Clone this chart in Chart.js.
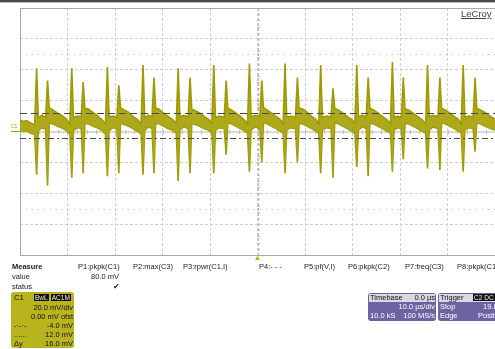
<!DOCTYPE html>
<html>
<head>
<meta charset="utf-8">
<script src="https://cdn.jsdelivr.net/npm/chart.js@4.4.0/dist/chart.umd.min.js"></script>
<style>
body { margin: 0; background: #fff; }
#wrap { position: relative; width: 495px; height: 349px; overflow: hidden; font-family: "Liberation Sans", Arial, sans-serif; }
#scope { position: absolute; left: 0; top: 0; }
.topbar { position: absolute; left: 0; top: 0; width: 495px; height: 2px; background: #4a4a4a; border-bottom: 1px solid #bdbdbd; }
.t { position: absolute; font-size: 7.5px; line-height: 9px; color: #222; white-space: nowrap; }
.b { font-weight: bold; }
.logo { position: absolute; left: 461px; top: 8px; font-size: 9.5px; line-height: 11px; color: #444; text-decoration: underline; }
.c1tag { position: absolute; left: 11px; top: 123px; font-size: 5px; line-height: 6px; color: #a8a200; }
.box { position: absolute; border-radius: 3px; overflow: hidden; }
.box .t { color: #111; }
.c1box { left: 11px; top: 292px; width: 63px; height: 56px; background: #b9b31e; }
.tbox { left: 368px; top: 293px; width: 68px; height: 28px; background: #6d63a2; }
.trbox { left: 438px; top: 293px; width: 70px; height: 28px; background: #6d63a2; }
.head { position: absolute; left: 1px; top: 1px; right: 1px; height: 8px; background: #d9d9e3; }
.w { color: #fff !important; }
.tag { background: #111; color: #eee; font-size: 6.5px; padding: 0 1px; }
</style>
</head>
<body>
<div id="wrap">
  <canvas id="scope" width="495" height="349"></canvas>
  <div class="topbar"></div>
  <div class="logo">LeCroy</div>
  <div class="c1tag">C1</div>

  <div class="t b" style="left:12px;top:262px">Measure</div>
  <div class="t" style="left:78px;top:262px">P1:pkpk(C1)</div>
  <div class="t" style="left:133px;top:262px">P2:max(C3)</div>
  <div class="t" style="left:183px;top:262px">P3:rpwr(C1,I)</div>
  <div class="t" style="left:259px;top:262px">P4:- - -</div>
  <div class="t" style="left:304px;top:262px">P5:pf(V,I)</div>
  <div class="t" style="left:348px;top:262px">P6:pkpk(C2)</div>
  <div class="t" style="left:405px;top:262px">P7:freq(C3)</div>
  <div class="t" style="left:457px;top:262px">P8:pkpk(C1)</div>
  <div class="t" style="left:12px;top:272px">value</div>
  <div class="t" style="right:376px;top:272px">80.0 mV</div>
  <div class="t" style="left:12px;top:282px">status</div>
  <div class="t" style="left:113px;top:282px">&#10004;</div>

  <div class="box c1box">
    <div class="t" style="left:3px;top:1px">C1</div>
    <div class="t" style="left:23px;top:1px"><span class="tag">BwL</span> <span class="tag">AC1M</span></div>
    <div class="t" style="right:1px;top:11px">20.0 mV/div</div>
    <div class="t" style="right:1px;top:20px">0.00 mV ofst</div>
    <div class="t" style="left:3px;top:29px">-·-·-</div>
    <div class="t" style="right:1px;top:29px">-4.0 mV</div>
    <div class="t" style="left:3px;top:38px">......</div>
    <div class="t" style="right:1px;top:38px">12.0 mV</div>
    <div class="t" style="left:3px;top:47px">Δy</div>
    <div class="t" style="right:1px;top:47px">16.0 mV</div>
  </div>

  <div class="box tbox">
    <div class="head"></div>
    <div class="t" style="left:2px;top:0px">Timebase</div>
    <div class="t" style="right:1px;top:0px">0.0 µs</div>
    <div class="t w" style="right:1px;top:9px">10.0 µs/div</div>
    <div class="t w" style="left:2px;top:18px">10.0 kS</div>
    <div class="t w" style="right:1px;top:18px">100 MS/s</div>
  </div>
  <div class="box trbox">
    <div class="head"></div>
    <div class="t" style="left:2px;top:0px">Trigger</div>
    <div class="t" style="left:35px;top:0px"><span class="tag">C2</span><span class="tag">DC</span></div>
    <div class="t w" style="left:2px;top:9px">Stop</div>
    <div class="t w" style="left:45px;top:9px">19.8 V</div>
    <div class="t w" style="left:2px;top:18px">Edge</div>
    <div class="t w" style="left:40px;top:18px">Positive</div>
  </div>
</div>

<script>
// C1 trace, time in µs (10 µs/div), voltage in mV (20 mV/div)
const spikeTimesA = [-46.5, -39.1, -31.6, -24.1, -16.7, -9.2, -1.7, 5.8, 13.3, 20.9, 28.4, 35.8, 43.3];
const spikePeakA = [41, 41, 42, 43, 41, 43, 44, 44, 43, 43, 45, 43, 43];
const spikeTroughA = [-28, -30, -29, -28, -32, -27, -26, -27, -27, -23, -26, -24, -26];

const spikeTimesB = [-44.2, -36.7, -29.2, -21.8, -14.2, -6.6, 0.9, 8.4, 15.9, 23.3, 30.7, 38.4, 45.8];
const spikePeakB = [33, 32, 30, 35, 35, 33, 33, 35, 28, 35, 35, 35, 35];
const spikeTroughB = [-35, -27, -27, -27, -27, -15, -20, -20, -30, -29, -18, -25, -13];

// noisy band between the spikes (upper / lower edge)
const bandTime = [
  -50, -49.3, -48.6, -47.8, -46.9,
  -46.15, -45.4, -44.6, -43.85, -43.1, -42.2, -41.3, -40.4, -39.5,
  -38.75, -37.9, -37.1, -36.35, -35.6, -34.7, -33.8, -32.9, -32.0,
  -31.25, -30.4, -29.6, -28.85, -28.1, -27.2, -26.3, -25.4, -24.5,
  -23.75, -23.0, -22.2, -21.45, -20.7, -19.8, -18.9, -18.0, -17.1,
  -16.35, -15.5, -14.6, -13.85, -13.1, -12.2, -11.3, -10.4, -9.6,
  -8.85, -8.0, -7.0, -6.25, -5.5, -4.6, -3.7, -2.8, -2.1,
  -1.35, -0.5, 0.5, 1.25, 2.0, 2.9, 3.8, 4.7, 5.4,
  6.15, 7.0, 8.0, 8.75, 9.5, 10.4, 11.3, 12.2, 12.9,
  13.65, 14.5, 15.5, 16.25, 17.0, 17.9, 18.8, 19.7, 20.5,
  21.25, 22.1, 22.9, 23.65, 24.4, 25.3, 26.2, 27.1, 28.0,
  28.75, 29.5, 30.3, 31.05, 31.8, 32.7, 33.6, 34.5, 35.4,
  36.15, 37.0, 38.0, 38.75, 39.5, 40.4, 41.3, 42.2, 42.9,
  43.65, 44.5, 45.4, 46.15, 46.9, 47.8, 48.7, 49.5, 50
];
const bandHigh = [
  7.5, 6.5, 7, 5.5, 4.5,
  9, 10.5, 9, 15.5, 14, 12, 10.5, 8.5, 5,
  9, 10, 9.5, 15, 14.5, 12.5, 10.5, 8, 5,
  9.5, 10, 9, 15.5, 14, 12.5, 10, 8, 5,
  9, 10.5, 9.5, 15, 14.5, 12, 10, 8, 5.5,
  9.5, 10.5, 9.5, 14.5, 13.5, 12, 10, 8, 5.5,
  9, 10, 9, 15, 14, 12, 10, 7.5, 5,
  9.5, 10.5, 9.5, 15.5, 14, 12, 10, 8, 5,
  9, 10, 9, 15, 14.5, 12.5, 10, 8, 5,
  9, 10, 9.5, 15, 14, 12, 10, 8, 5.5,
  9.5, 10.5, 9.5, 15, 14, 12, 10, 8, 5,
  9, 10, 9, 14.5, 14, 12, 10, 8, 5,
  9.5, 10.5, 9.5, 15, 14, 12, 10, 8, 5,
  9, 10, 9.5, 15, 14, 12.5, 10.5, 9, 8
];
const bandLow = [
  1, 0, 0.5, -1, -2,
  0.5, 2.5, 1.5, 5.5, 5, 3.5, 2.5, 1, -1.5,
  0.5, 2.5, 2, 5, 5, 3.5, 2.5, 1, -1.5,
  0.5, 2.5, 2, 5.5, 4.5, 3.5, 2, 0.5, -1.5,
  0.5, 3, 2, 5, 5, 3.5, 2, 1, -1,
  1, 3, 2, 5, 4.5, 3.5, 2, 1, -0.5,
  1, 2.5, 2, 5.5, 5, 3.5, 2, 0.5, -1,
  1, 3, 2, 5.5, 5, 3.5, 2, 0.5, -1,
  1, 2.5, 2, 5, 5, 3.5, 2, 0.5, -1,
  1, 2.5, 2, 5.5, 5, 3.5, 2, 0.5, -1,
  1, 3, 2, 5, 5, 3.5, 2, 0.5, -1,
  1, 2.5, 2, 5, 5, 3.5, 2, 0.5, -1,
  1, 3, 2, 5.5, 5, 3.5, 2, 0.5, -1,
  1, 2.5, 2, 5.5, 5, 3.5, 2.5, 1.5, 1
];

// cursors and markers
const cursorHigh = 12.0;
const cursorLow = -4.0;
const limitLines = [50, -50];

// merge band and spikes into one time-ordered list
let rows = [];
bandTime.forEach(function(t, i) { rows.push({ t: t, hi: bandHigh[i], lo: bandLow[i] }); });
spikeTimesA.forEach(function(t, i) { rows.push({ t: t, hi: spikePeakA[i], lo: spikeTroughA[i] }); });
spikeTimesB.forEach(function(t, i) { rows.push({ t: t, hi: spikePeakB[i], lo: spikeTroughB[i] }); });
rows.sort(function(a, b) { return a.t - b.t; });

let traceColor = 'rgb(160,154,0)';

const scopePlugin = {
    id: 'scope',
    beforeDatasetsDraw: function(chart) {
        let ctx = chart.ctx, a = chart.chartArea;
        let x = chart.scales.x, y = chart.scales.y;
        ctx.save();
        // dotted limit lines
        ctx.strokeStyle = '#b4b4b4';
        ctx.lineWidth = 1;
        ctx.setLineDash([1, 5]);
        limitLines.forEach(function(v) {
            let py = Math.round(y.getPixelForValue(v)) + 0.5;
            ctx.beginPath(); ctx.moveTo(a.left, py); ctx.lineTo(a.right, py); ctx.stroke();
        });
        ctx.setLineDash([]);
        // centre lines with ticks
        let cy = Math.round(y.getPixelForValue(0));
        let cx = Math.round(x.getPixelForValue(0)) + 0.5;
        ctx.strokeStyle = '#dadada';
        ctx.lineWidth = 2;
        ctx.beginPath(); ctx.moveTo(a.left, cy); ctx.lineTo(a.right, cy); ctx.stroke();
        ctx.lineWidth = 1;
        ctx.strokeStyle = '#b8b8b8';
        ctx.setLineDash([3, 2]);
        ctx.beginPath(); ctx.moveTo(cx, a.top); ctx.lineTo(cx, a.bottom); ctx.stroke();
        ctx.setLineDash([]);
        ctx.strokeStyle = '#c0c0c0';
        ctx.beginPath();
        for (let v = -80; v <= 80; v += 4) {
            let py = Math.round(y.getPixelForValue(v)) + 0.5;
            ctx.moveTo(cx - 1.5, py); ctx.lineTo(cx + 1.5, py);
        }
        for (let t = -50; t <= 50; t += 2) {
            let px = Math.round(x.getPixelForValue(t)) + 0.5;
            ctx.moveTo(px, cy - 2); ctx.lineTo(px, cy + 2);
        }
        ctx.stroke();
        // frame
        ctx.strokeStyle = '#a8a8a8';
        ctx.strokeRect(a.left + 0.5, a.top + 0.5, a.right - a.left + 5, a.bottom - a.top);
        ctx.restore();
    },
    afterDatasetsDraw: function(chart) {
        let ctx = chart.ctx, a = chart.chartArea;
        let y = chart.scales.y, x = chart.scales.x;
        ctx.save();
        ctx.strokeStyle = '#4a4a4a';
        ctx.lineWidth = 1;
        let py = Math.round(y.getPixelForValue(cursorHigh)) + 0.5;
        ctx.setLineDash([7, 4]);
        ctx.beginPath(); ctx.moveTo(a.left, py); ctx.lineTo(a.right, py); ctx.stroke();
        py = Math.round(y.getPixelForValue(cursorLow)) + 0.5;
        ctx.setLineDash([6, 3, 2, 3]);
        ctx.beginPath(); ctx.moveTo(a.left, py); ctx.lineTo(a.right, py); ctx.stroke();
        ctx.setLineDash([]);
        // channel ground marker
        let gy = Math.round(y.getPixelForValue(0)) - 0.5;
        ctx.strokeStyle = traceColor;
        ctx.beginPath(); ctx.moveTo(11, gy); ctx.lineTo(a.left, gy); ctx.stroke();
        // trigger position marker
        let tx = x.getPixelForValue(0);
        ctx.fillStyle = '#c2bb10';
        ctx.beginPath();
        ctx.moveTo(tx, a.bottom + 0.5); ctx.lineTo(tx - 2.5, a.bottom + 5); ctx.lineTo(tx + 2.5, a.bottom + 5);
        ctx.closePath(); ctx.fill();
        ctx.restore();
    }
};

let scopeChart = new Chart(document.getElementById('scope').getContext('2d'), {
    type: 'line',
    data: {
        datasets: [{
            label: 'C1 upper',
            data: rows.map(function(r) { return { x: r.t, y: r.hi }; }),
            borderColor: traceColor,
            backgroundColor: 'rgba(170,164,16,0.95)',
            borderWidth: 1.6,
            pointRadius: 0,
            tension: 0,
            fill: '+1'
        }, {
            label: 'C1 lower',
            data: rows.map(function(r) { return { x: r.t, y: r.lo }; }),
            borderColor: traceColor,
            borderWidth: 1.6,
            pointRadius: 0,
            tension: 0,
            fill: false
        }]
    },
    options: {
        responsive: false,
        animation: false,
        layout: { padding: { left: 20, top: 8, right: 0, bottom: 94 } },
        plugins: { legend: { display: false }, tooltip: { enabled: false } },
        scales: {
            x: {
                type: 'linear', min: -50, max: 50,
                ticks: { display: false, stepSize: 10 },
                grid: { color: '#d0d0d0', drawTicks: false },
                border: { display: false, dash: [3, 2] }
            },
            y: {
                min: -80, max: 80,
                ticks: { display: false, stepSize: 20 },
                grid: { color: '#d0d0d0', drawTicks: false },
                border: { display: false, dash: [3, 2] }
            }
        }
    },
    plugins: [scopePlugin]
});
</script>
</body>
</html>
